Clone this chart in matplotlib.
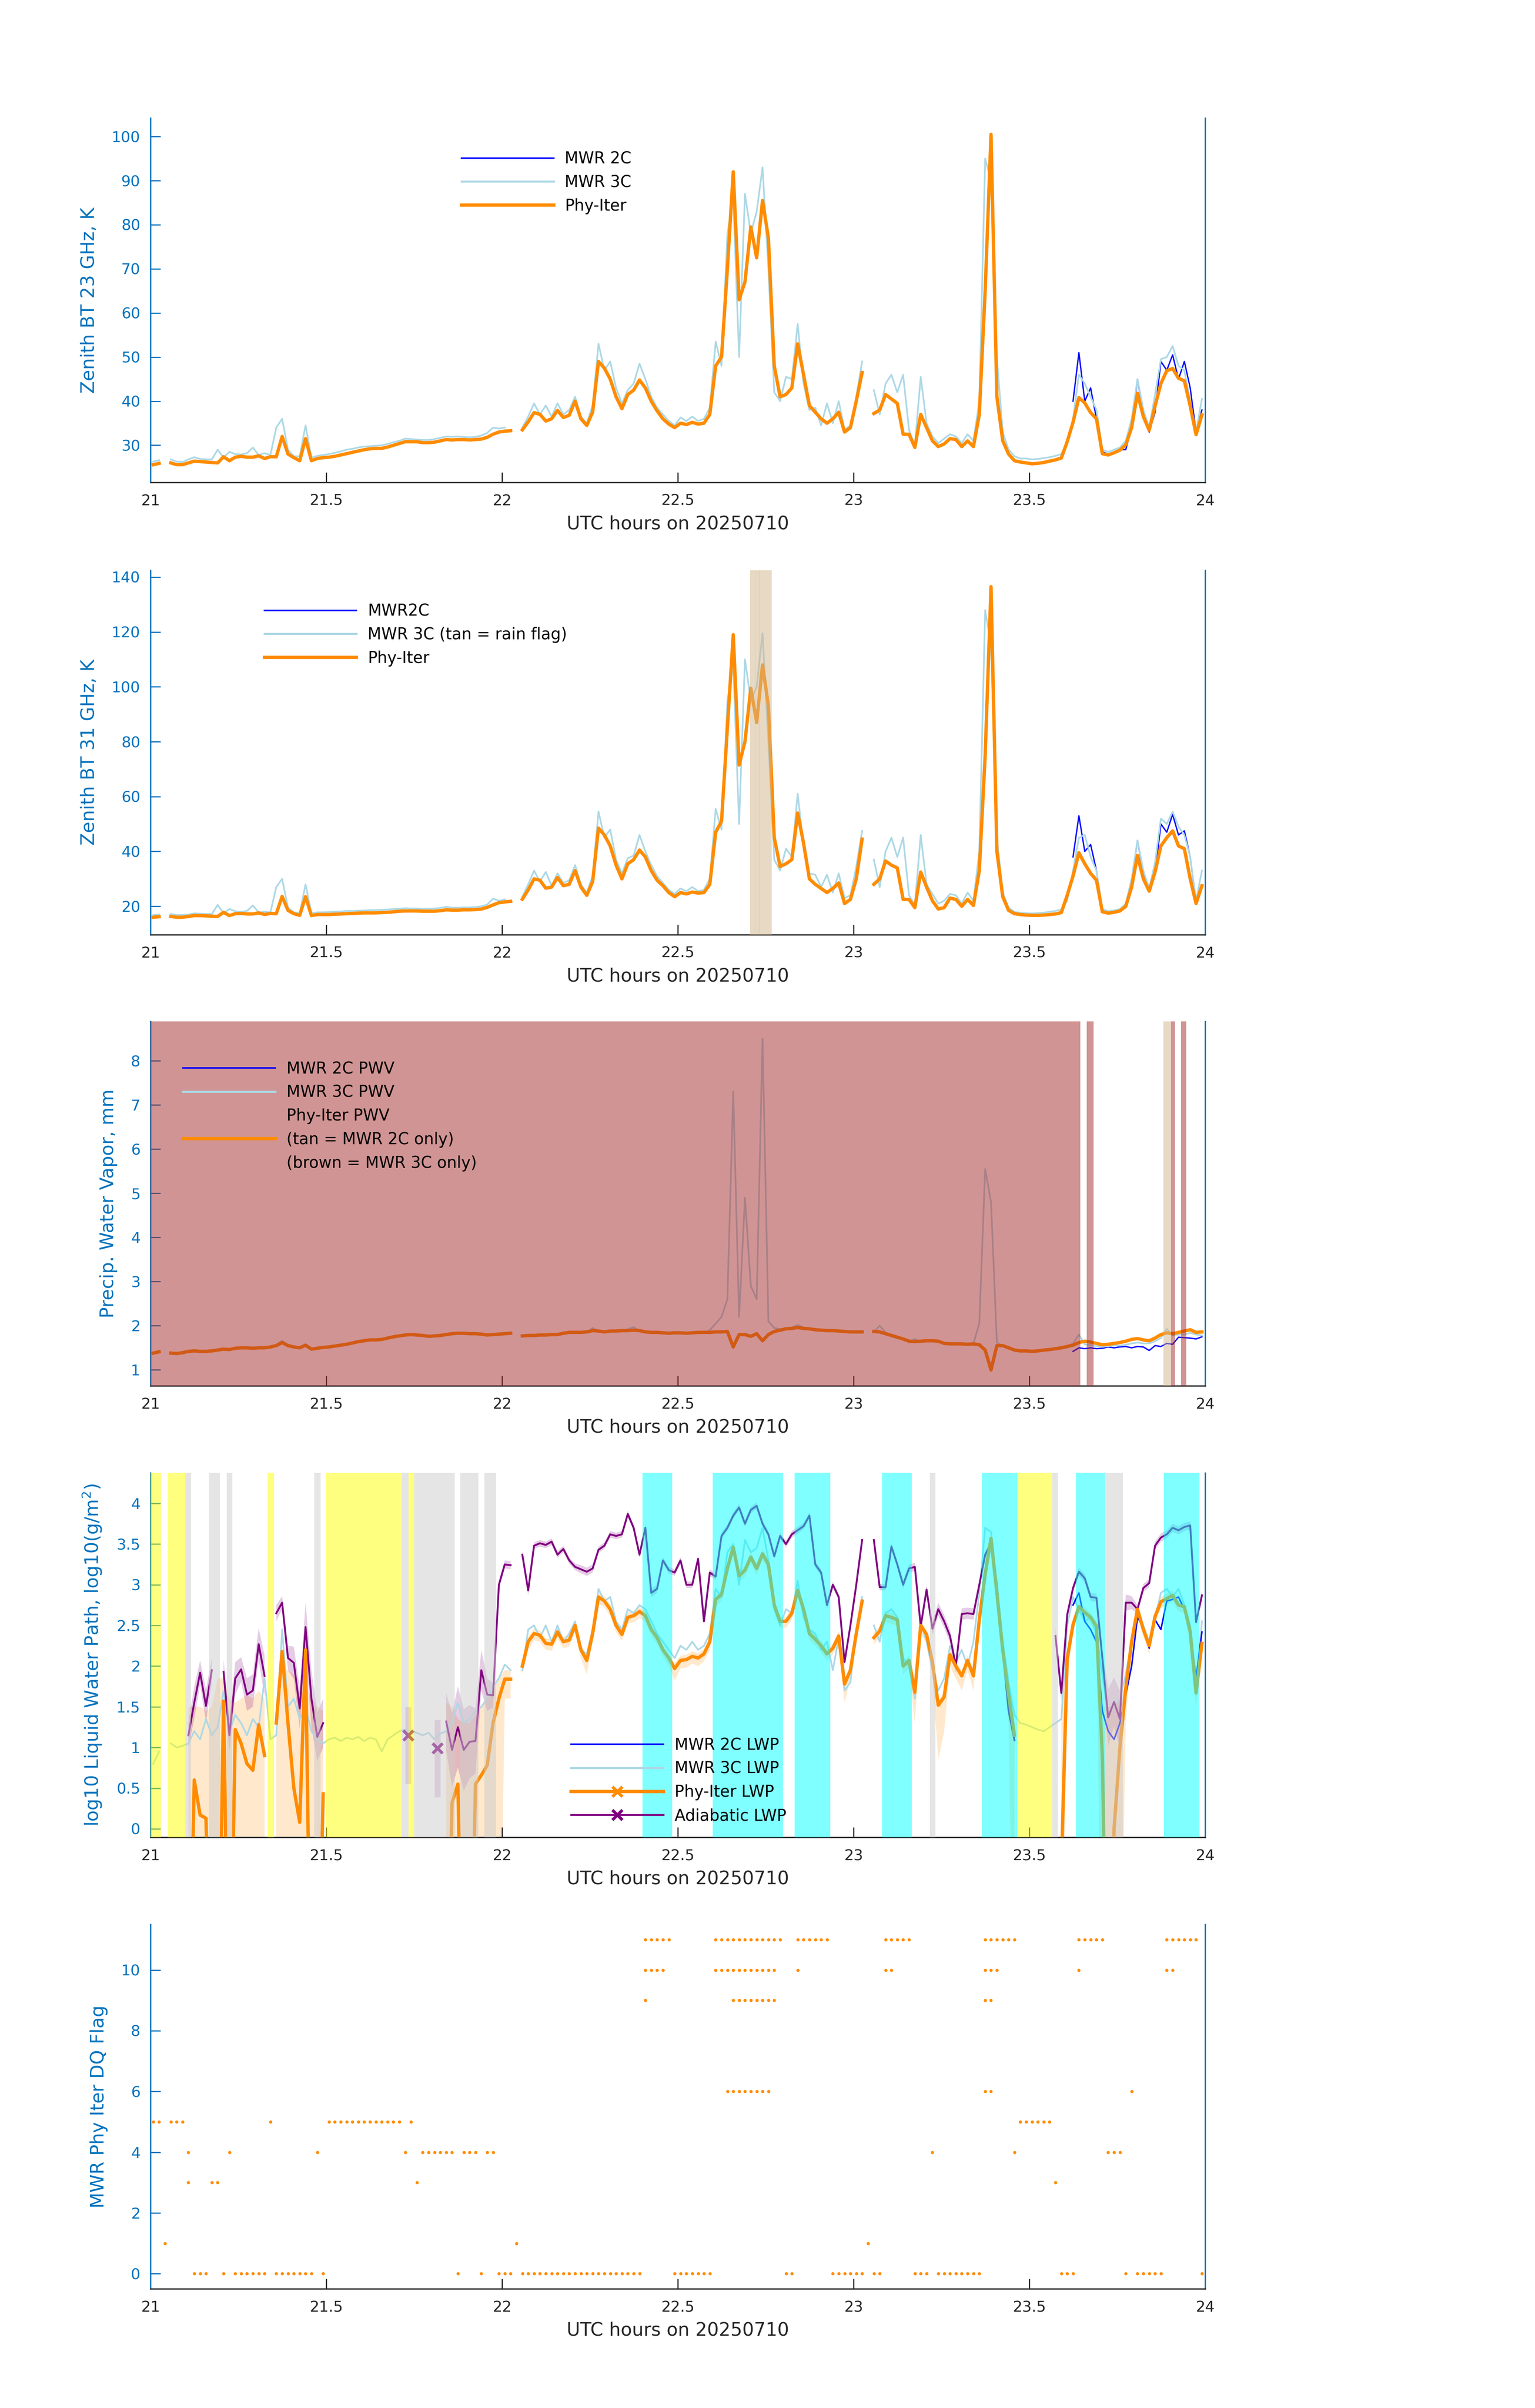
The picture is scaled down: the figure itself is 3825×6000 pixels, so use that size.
import numpy as np
import matplotlib
matplotlib.use("Agg")
import matplotlib.pyplot as plt
from matplotlib.lines import Line2D

plt.rcParams['font.family'] = ['DejaVu Sans']

nan = np.nan
inf = np.inf

# ---------------- sample times (one Phy-Iter sample per minute) ----------------
SAMPLE0 = 21.008
NSAMP = 180
hours = SAMPLE0 + np.arange(NSAMP) / 60.0
MWR2C_FIRST = 157          # MWR 2C record starts at this sample

# ---------------- Zenith BT 23 GHz (K) ----------------
bt23_phy = [25.6, 25.9, nan, 26.0, 25.6, 25.6, 26.0, 26.4, 26.3, 26.2,
            26.1, 26.0, 27.4, 26.5, 27.3, 27.5, 27.3, 27.3, 27.6, 27.0,
            27.4, 27.4, 32.0, 28.0, 27.2, 26.5, 31.5, 26.5, 27.0, 27.2,
            27.3, 27.5, 27.8, 28.1, 28.4, 28.7, 29.0, 29.2, 29.3, 29.3,
            29.6, 30.0, 30.4, 30.8, 30.8, 30.8, 30.6, 30.6, 30.7, 31.0,
            31.3, 31.2, 31.3, 31.3, 31.2, 31.3, 31.4, 31.8, 32.5, 33.0,
            33.2, 33.3, nan, 33.5, 35.3, 37.4, 37.0, 35.5, 36.0, 37.9,
            36.3, 36.8, 40.0, 36.0, 34.5, 37.5, 49.0, 47.5, 45.0, 41.0,
            38.3, 41.5, 42.5, 44.8, 43.0, 40.0, 37.8, 36.0, 34.8, 34.0,
            35.0, 34.7, 35.2, 34.8, 35.0, 37.0, 48.0, 50.0, 70.0, 92.0,
            63.0, 67.0, 79.5, 72.5, 85.5, 77.0, 48.0, 41.0, 41.5, 43.0,
            53.0, 46.0, 39.0, 37.5, 36.0, 35.0, 36.0, 37.5, 33.0, 34.0,
            40.0, 46.5, nan, 37.2, 38.0, 41.5, 40.5, 39.5, 32.5, 32.5,
            29.5, 37.0, 34.0, 31.0, 29.7, 30.3, 31.5, 31.3, 29.7, 31.0,
            29.7, 37.0, 65.0, 100.5, 41.0, 31.0, 28.0, 26.5, 26.2, 26.0,
            25.8, 25.9, 26.1, 26.4, 26.7, 27.1, 30.8, 35.2, 40.8, 39.6,
            37.4, 36.0, 28.1, 27.8, 28.3, 28.9, 30.1, 34.0, 41.8, 36.5,
            33.4, 38.9, 44.0, 46.9, 47.4, 45.2, 44.6, 38.9, 32.4, 36.9]
bt23_3c = [26.3, 26.6, nan, 26.8, 26.3, 26.2, 26.8, 27.3, 26.9, 26.8,
           26.8, 29.0, 27.2, 28.5, 28.0, 27.9, 28.2, 29.5, 27.8, 28.2,
           27.8, 34.0, 36.0, 29.0, 27.5, 27.5, 34.5, 27.2, 27.6, 27.8,
           28.0, 28.3, 28.6, 29.0, 29.2, 29.5, 29.7, 29.8, 29.9, 30.0,
           30.3, 30.7, 31.0, 31.5, 31.4, 31.3, 31.2, 31.2, 31.4, 31.7,
           32.0, 31.9, 32.0, 31.9, 31.8, 31.9, 32.2, 32.8, 34.0, 33.8,
           34.0, nan, nan, 34.0, 36.5, 39.5, 37.0, 39.0, 36.5, 39.5,
           37.0, 38.0, 41.0, 36.5, 35.0, 39.0, 53.0, 47.0, 49.0, 43.0,
           39.5, 42.5, 44.0, 48.5, 45.0, 41.0, 38.5, 37.0, 35.5, 34.5,
           36.3, 35.5, 36.5, 35.5, 36.0, 38.5, 53.5, 48.0, 78.0, 86.0,
           50.0, 87.0, 78.0, 83.0, 93.0, 70.0, 42.0, 40.0, 45.5, 45.0,
           57.5, 44.0, 38.0, 38.5, 34.5, 39.5, 35.0, 40.0, 33.5, 34.5,
           41.0, 49.0, nan, 42.5, 37.0, 44.0, 46.0, 42.0, 46.0, 33.5,
           30.0, 45.5, 35.0, 32.0, 30.5, 31.5, 32.5, 32.0, 30.5, 32.5,
           31.0, 40.0, 95.0, 90.0, 50.0, 33.0, 29.0, 27.5, 27.0, 27.0,
           26.8, 26.9, 27.1, 27.3, 27.6, 28.0, 30.5, 36.0, 46.0, 44.0,
           41.0, 38.0, 29.0, 28.5, 29.0, 29.5, 31.0, 36.0, 45.0, 38.0,
           34.0, 41.5, 49.5, 50.0, 52.5, 48.0, 47.0, 40.0, 33.0, 40.5]
bt23_2c = [40.0, 51.0, 40.0, 43.0, 36.0, 28.5, 28.0, 28.5, 29.0, 29.0,
           34.0, 45.0, 37.0, 33.0, 37.5, 49.0, 47.0, 50.5, 45.0, 49.0,
           43.0, 33.0, 38.0]

# ---------------- Zenith BT 31 GHz (K) ----------------
bt31_phy = [16.0, 16.2, nan, 16.3, 16.0, 16.0, 16.3, 16.6, 16.6, 16.5,
            16.4, 16.3, 17.8, 16.6, 17.3, 17.4, 17.2, 17.2, 17.6, 17.0,
            17.4, 17.3, 23.6, 18.5, 17.3, 16.7, 23.5, 16.6, 17.0, 17.0,
            17.0, 17.1, 17.2, 17.3, 17.4, 17.5, 17.6, 17.6, 17.6, 17.7,
            17.8, 18.0, 18.2, 18.3, 18.3, 18.3, 18.2, 18.2, 18.2, 18.4,
            18.7, 18.6, 18.6, 18.7, 18.7, 18.8, 19.0, 19.6, 20.5, 21.3,
            21.6, 21.8, nan, 22.6, 26.0, 30.0, 29.5, 26.6, 27.0, 30.5,
            27.5, 28.0, 33.0, 27.0, 24.0, 29.0, 48.5, 46.0, 42.0, 35.0,
            30.0, 35.5, 37.0, 40.5, 38.0, 33.0, 29.5, 27.5, 25.0, 23.5,
            25.0, 24.5, 25.2, 24.8, 25.0, 28.0, 47.0, 51.0, 85.0, 119.0,
            71.5, 80.0, 99.5, 87.0, 108.0, 93.0, 45.0, 34.5, 35.5, 37.0,
            54.0, 43.0, 30.0, 28.0, 26.5, 25.0, 26.5, 28.5, 21.0, 22.5,
            30.0, 44.5, nan, 28.0, 30.0, 36.5, 35.0, 34.0, 22.5, 22.5,
            19.5, 32.5, 27.0, 22.0, 19.0, 19.5, 23.0, 22.5, 20.0, 22.5,
            20.3, 33.0, 75.0, 136.5, 40.0, 23.5, 18.5, 17.3, 17.0, 16.8,
            16.7, 16.7, 16.8, 17.0, 17.2, 17.7, 24.0, 31.0, 39.5, 35.5,
            32.0, 29.5, 18.0, 17.5, 17.8, 18.3, 20.0, 27.0, 38.5, 30.0,
            25.5, 32.5, 42.0, 45.0, 47.5, 42.0, 41.0, 30.0, 21.0, 27.5]
bt31_3c = [16.8, 17.0, nan, 17.2, 16.8, 16.8, 17.0, 17.4, 17.3, 17.2,
           17.2, 20.5, 17.5, 19.0, 18.2, 18.0, 18.3, 20.3, 17.8, 18.0,
           17.8, 27.0, 30.0, 19.5, 17.8, 17.5, 28.0, 17.5, 17.8, 17.8,
           17.9, 18.0, 18.1, 18.3, 18.3, 18.4, 18.5, 18.6, 18.6, 18.7,
           18.8, 19.0, 19.1, 19.3, 19.2, 19.2, 19.1, 19.1, 19.2, 19.4,
           19.8, 19.5, 19.5, 19.6, 19.6, 19.7, 20.0, 20.6, 22.8, 22.0,
           22.5, nan, nan, 23.5, 28.0, 33.0, 29.0, 32.5, 27.5, 32.0,
           28.5, 29.5, 35.0, 28.0, 25.0, 31.0, 54.5, 45.0, 48.0, 37.0,
           32.0, 37.5, 38.5, 46.0, 40.0, 35.0, 31.0, 28.5, 26.0, 24.5,
           26.5, 25.5, 27.0, 25.5, 26.0, 30.0, 55.5, 48.0, 95.0, 108.0,
           50.0, 110.0, 95.0, 100.0, 119.5, 80.0, 37.0, 33.0, 41.0, 38.0,
           61.0, 42.0, 32.0, 31.5, 27.0, 31.5, 25.0, 32.0, 23.0, 24.0,
           34.5, 47.5, nan, 37.0, 27.0, 40.0, 45.0, 38.0, 45.0, 24.0,
           20.5, 46.0, 28.0, 24.5, 21.0, 22.0, 24.5, 24.0, 21.0, 25.0,
           22.0, 40.0, 128.0, 115.0, 45.0, 25.0, 19.5, 18.0, 17.6, 17.5,
           17.4, 17.5, 17.7, 18.0, 18.3, 18.8, 22.0, 33.0, 45.0, 46.0,
           38.0, 33.0, 19.0, 18.2, 18.5, 19.0, 21.0, 30.0, 44.0, 33.0,
           26.5, 36.0, 52.0, 50.0, 54.5, 49.0, 46.0, 38.0, 22.0, 33.0]
bt31_2c = [38.0, 53.0, 40.0, 42.5, 33.0, 18.5, 17.8, 18.0, 18.5, 19.5,
           29.0, 44.0, 32.0, 26.0, 32.0, 50.0, 47.0, 53.5, 46.0, 47.5,
           38.0, 21.0, 27.0]
rain_flag_spans = [(22.706, 22.721), (22.720, 22.732), (22.731, 22.767)]

# ---------------- Precipitable water vapour (mm) ----------------
pwv_phy = [1.38, 1.41, nan, 1.38, 1.37, 1.39, 1.42, 1.43, 1.42, 1.42,
           1.43, 1.45, 1.47, 1.46, 1.49, 1.50, 1.50, 1.49, 1.50, 1.50,
           1.52, 1.55, 1.62, 1.55, 1.52, 1.50, 1.56, 1.47, 1.49, 1.51,
           1.52, 1.54, 1.56, 1.58, 1.61, 1.64, 1.66, 1.68, 1.68, 1.69,
           1.72, 1.75, 1.77, 1.79, 1.80, 1.79, 1.78, 1.76, 1.77, 1.78,
           1.80, 1.82, 1.83, 1.83, 1.82, 1.82, 1.81, 1.79, 1.80, 1.81,
           1.82, 1.83, nan, 1.77, 1.78, 1.78, 1.79, 1.79, 1.80, 1.80,
           1.83, 1.85, 1.85, 1.85, 1.86, 1.89, 1.88, 1.86, 1.88, 1.88,
           1.89, 1.89, 1.90, 1.89, 1.86, 1.85, 1.85, 1.84, 1.83, 1.84,
           1.84, 1.83, 1.84, 1.85, 1.85, 1.85, 1.86, 1.86, 1.87, 1.52,
           1.80, 1.80, 1.76, 1.82, 1.66, 1.80, 1.87, 1.90, 1.93, 1.94,
           1.96, 1.94, 1.93, 1.91, 1.90, 1.89, 1.89, 1.88, 1.87, 1.86,
           1.86, 1.86, nan, 1.87, 1.86, 1.82, 1.78, 1.74, 1.70, 1.65,
           1.64, 1.65, 1.66, 1.66, 1.65, 1.60, 1.59, 1.59, 1.59, 1.58,
           1.59, 1.57, 1.45, 1.00, 1.55, 1.55, 1.50, 1.45, 1.43, 1.43,
           1.42, 1.43, 1.45, 1.46, 1.48, 1.50, 1.53, 1.56, 1.62, 1.65,
           1.63, 1.60, 1.57, 1.58, 1.60, 1.62, 1.65, 1.69, 1.71, 1.68,
           1.66, 1.72, 1.80, 1.84, 1.82, 1.85, 1.88, 1.91, 1.85, 1.86]
pwv_3c = [1.37, 1.40, nan, 1.37, 1.36, 1.38, 1.41, 1.42, 1.41, 1.41,
          1.42, 1.44, 1.46, 1.45, 1.48, 1.49, 1.49, 1.48, 1.49, 1.49,
          1.51, 1.57, 1.66, 1.56, 1.51, 1.49, 1.58, 1.46, 1.48, 1.50,
          1.51, 1.53, 1.55, 1.57, 1.60, 1.63, 1.65, 1.67, 1.67, 1.68,
          1.71, 1.74, 1.76, 1.78, 1.79, 1.78, 1.77, 1.75, 1.76, 1.77,
          1.79, 1.81, 1.82, 1.82, 1.81, 1.81, 1.80, 1.78, 1.79, 1.80,
          1.81, nan, nan, 1.76, 1.77, 1.77, 1.78, 1.78, 1.79, 1.82,
          1.83, 1.84, 1.87, 1.84, 1.85, 1.95, 1.88, 1.85, 1.87, 1.87,
          1.88, 1.92, 1.97, 1.88, 1.85, 1.84, 1.84, 1.83, 1.82, 1.83,
          1.83, 1.82, 1.83, 1.84, 1.84, 1.90, 2.05, 2.20, 2.60, 7.30,
          2.20, 4.90, 2.90, 2.60, 8.50, 2.10, 1.95, 1.92, 1.95, 1.96,
          2.02, 1.96, 1.92, 1.90, 1.89, 1.88, 1.88, 1.87, 1.86, 1.85,
          1.85, 1.85, nan, 1.86, 2.00, 1.85, 1.76, 1.72, 1.70, 1.64,
          1.70, 1.64, 1.65, 1.65, 1.64, 1.59, 1.58, 1.58, 1.58, 1.57,
          1.60, 2.05, 5.55, 4.80, 1.62, 1.54, 1.49, 1.44, 1.42, 1.42,
          1.41, 1.42, 1.44, 1.45, 1.47, 1.49, 1.52, 1.60, 1.80, 1.58,
          1.56, 1.54, 1.52, 1.54, 1.55, 1.55, 1.57, 1.60, 1.62, 1.60,
          1.60, 1.65, 1.72, 1.93, 1.78, 1.80, 1.80, 1.84, 1.80, 1.78]
pwv_2c = [1.42, 1.50, 1.48, 1.50, 1.48, 1.49, 1.52, 1.50, 1.52, 1.53,
          1.50, 1.53, 1.52, 1.44, 1.55, 1.53, 1.60, 1.58, 1.74, 1.73,
          1.72, 1.70, 1.75]
mwr3c_only_spans = [(21.0, 23.645), (23.664, 23.683), (23.903, 23.915), (23.932, 23.947)]
mwr2c_only_spans = [(23.882, 23.903)]

# ---------------- log10 LWP (log10 g/m2); -inf = zero LWP ----------------
lwp_phy = [nan, nan, nan, nan, nan, nan, -inf, 0.60, 0.17, 0.13,
           -inf, -inf, 1.57, -inf, 1.22, 1.05, 0.80, 0.72, 1.28, 0.90,
           nan, 1.30, 2.18, 1.30, 0.50, 0.08, 2.20, -inf, -inf, 0.43,
           nan, nan, nan, nan, nan, nan, nan, nan, nan, nan,
           nan, nan, nan, nan, nan, nan, nan, nan, nan, nan,
           -inf, 0.32, 0.55, -inf, -inf, 0.55, 0.66, 0.78, 1.30, 1.60,
           1.84, 1.84, nan, 2.00, 2.30, 2.40, 2.38, 2.28, 2.27, 2.42,
           2.30, 2.32, 2.50, 2.20, 2.07, 2.40, 2.85, 2.80, 2.70, 2.50,
           2.39, 2.60, 2.62, 2.67, 2.62, 2.45, 2.35, 2.20, 2.10, 1.97,
           2.07, 2.08, 2.12, 2.10, 2.15, 2.30, 2.82, 2.88, 3.20, 3.46,
           3.11, 3.18, 3.34, 3.20, 3.38, 3.25, 2.75, 2.55, 2.55, 2.65,
           2.93, 2.70, 2.40, 2.33, 2.25, 2.15, 2.22, 2.37, 1.78, 1.95,
           2.40, 2.80, nan, 2.35, 2.43, 2.62, 2.60, 2.57, 2.00, 2.07,
           1.68, 2.50, 2.39, 2.05, 1.52, 1.62, 2.14, 2.00, 1.88, 2.07,
           1.88, 2.57, 3.13, 3.57, 2.90, 2.20, 1.65, 1.15, nan, nan,
           nan, nan, nan, nan, nan, -0.50, 2.09, 2.51, 2.73, 2.66,
           2.60, 2.49, 0.89, -inf, 0.00, 1.00, 1.73, 2.30, 2.70, 2.45,
           2.25, 2.61, 2.79, 2.83, 2.87, 2.75, 2.73, 2.42, 1.67, 2.28]
lwp_phy_hi = [nan, nan, nan, nan, nan, nan, 1.50, 1.50, 1.50, 1.45,
              1.50, 1.85, 1.85, 1.60, 1.55, 1.60, 1.65, 1.60, 1.70, 1.60,
              nan, 1.50, 1.95, 1.95, 1.90, 1.60, 1.80, 1.60, 1.50, 1.45,
              nan, nan, nan, nan, nan, nan, nan, nan, nan, nan,
              nan, nan, nan, nan, nan, nan, nan, nan, nan, nan,
              1.55, 1.50, 1.35, 1.30, 1.30, 1.40, 1.50, 1.60, 1.70, 1.85,
              1.95, 1.95, nan, 2.06, 2.36, 2.46, 2.44, 2.34, 2.33, 2.48,
              2.36, 2.38, 2.56, 2.26, 2.13, 2.46, 2.91, 2.86, 2.76, 2.56,
              2.45, 2.66, 2.68, 2.73, 2.68, 2.51, 2.41, 2.26, 2.16, 2.03,
              2.13, 2.14, 2.18, 2.16, 2.21, 2.36, 2.88, 2.94, 3.26, 3.52,
              3.17, 3.24, 3.40, 3.26, 3.44, 3.31, 2.81, 2.61, 2.61, 2.71,
              2.99, 2.76, 2.46, 2.39, 2.31, 2.21, 2.28, 2.43, 1.84, 2.01,
              2.46, 2.86, nan, 2.41, 2.49, 2.68, 2.66, 2.63, 2.06, 2.13,
              1.74, 2.56, 2.45, 2.11, 1.58, 1.68, 2.20, 2.06, 1.94, 2.13,
              1.94, 2.63, 3.19, 3.63, 2.96, 2.26, 1.71, 1.25, nan, nan,
              nan, nan, nan, nan, nan, 1.50, 2.15, 2.57, 2.79, 2.72,
              2.66, 2.55, 1.50, 1.50, 1.50, 1.60, 1.79, 2.36, 2.76, 2.51,
              2.31, 2.67, 2.85, 2.89, 2.93, 2.81, 2.79, 2.48, 1.73, 2.34]
lwp_phy_lo = [nan, nan, nan, nan, nan, nan, -inf, -inf, -inf, -inf,
              -inf, -inf, -inf, -inf, -inf, -inf, -inf, -inf, -inf, -inf,
              nan, -inf, -inf, -inf, -inf, -inf, -inf, -inf, -inf, -inf,
              nan, nan, nan, nan, nan, nan, nan, nan, nan, nan,
              nan, nan, nan, nan, nan, nan, nan, nan, nan, nan,
              -inf, -inf, -inf, -inf, -inf, -inf, -inf, -inf, -inf, -inf,
              1.60, 1.60, nan, 1.90, 2.20, 2.32, 2.30, 2.20, 2.19, 2.34,
              2.22, 2.24, 2.42, 2.10, 1.90, 2.30, 2.77, 2.72, 2.62, 2.42,
              2.31, 2.52, 2.54, 2.59, 2.54, 2.37, 2.27, 2.12, 2.00, 1.82,
              1.97, 1.98, 2.03, 2.00, 2.06, 2.20, 2.74, 2.80, 3.12, 3.38,
              3.03, 3.10, 3.26, 3.12, 3.30, 3.17, 2.67, 2.47, 2.47, 2.57,
              2.85, 2.62, 2.32, 2.25, 2.17, 2.07, 2.14, 2.29, 1.55, 1.85,
              2.30, 2.72, nan, 2.27, 2.35, 2.54, 2.52, 2.49, 1.90, 1.97,
              1.30, 2.40, 2.29, 1.90, 0.85, 1.20, 2.00, 1.85, 1.70, 1.95,
              1.70, 2.45, 3.05, 3.49, 2.80, 2.05, 1.30, -inf, nan, nan,
              nan, nan, nan, nan, nan, -inf, 1.85, 2.43, 2.65, 2.58,
              2.52, 2.40, -inf, -inf, -inf, -inf, 1.35, 2.20, 2.62, 2.37,
              2.15, 2.53, 2.71, 2.75, 2.79, 2.67, 2.65, 2.30, 1.50, 2.20]
lwp_3c = [0.80, 0.95, nan, 1.05, 1.00, 1.02, 1.05, 1.20, 1.10, 1.35,
          1.15, 1.25, 1.70, 1.20, 1.40, 1.30, 1.15, 1.35, 1.25, 1.85,
          1.10, 1.15, 2.45, 1.50, 1.60, 1.35, 1.50, 1.20, 1.10, 1.05,
          1.10, 1.12, 1.08, 1.12, 1.10, 1.13, 1.08, 1.12, 1.10, 0.95,
          1.10, 1.15, 1.20, 1.22, 1.20, 1.18, 1.15, 1.18, 1.10, 1.17,
          1.20, 1.30, 1.55, 1.30, 1.35, 1.45, 1.50, 1.60, 1.75, 1.85,
          2.02, 1.95, nan, 1.95, 2.45, 2.50, 2.35, 2.50, 2.30, 2.50,
          2.30, 2.40, 2.55, 2.20, 2.15, 2.45, 2.95, 2.80, 2.85, 2.55,
          2.45, 2.70, 2.65, 2.75, 2.70, 2.55, 2.40, 2.30, 2.20, 2.10,
          2.25, 2.20, 2.30, 2.20, 2.25, 2.40, 2.95, 2.85, 3.40, 3.50,
          3.00, 3.55, 3.40, 3.45, 3.70, 3.30, 2.70, 2.50, 2.70, 2.65,
          3.05, 2.60, 2.45, 2.40, 2.20, 2.30, 1.95, 2.35, 1.70, 1.80,
          2.45, 2.85, nan, 2.50, 2.30, 2.65, 2.70, 2.60, 2.10, 2.00,
          1.60, 2.55, 2.30, 1.95, 1.70, 1.85, 2.25, 2.05, 2.20, 2.00,
          2.30, 2.90, 3.70, 3.65, 3.00, 2.30, 1.80, 1.40, 1.30, 1.28,
          1.25, 1.22, 1.20, 1.25, 1.30, 1.35, 2.50, 2.85, 2.70, 2.55,
          2.60, 2.40, 1.90, 1.40, 1.50, 1.60, 1.90, 2.30, 2.65, 2.50,
          2.30, 2.60, 2.90, 2.95, 2.85, 2.95, 2.75, 2.50, 1.75, 2.55]
lwp_2c = [2.75, 2.90, 2.55, 2.45, 2.30, 1.45, 1.20, 1.10, 1.30, 1.65,
          2.00, 2.60, 2.48, 2.22, 2.57, 2.45, 2.80, 2.82, 2.85, 2.70,
          2.42, 1.85, 2.42]
lwp_adiab = [nan, nan, nan, nan, nan, nan, 1.15, 1.55, 1.92, 1.51,
             1.95, nan, 1.93, 1.15, 1.85, 1.96, 1.65, 1.70, 2.27, 1.88,
             nan, 2.65, 2.78, 2.10, 2.04, 1.48, 2.48, 1.60, 1.13, 1.30,
             nan, nan, nan, nan, nan, nan, nan, nan, nan, nan,
             nan, nan, nan, nan, nan, nan, nan, nan, nan, nan,
             1.32, 0.97, 1.25, 0.97, 1.07, 1.08, 1.95, 1.65, 1.64, 3.00,
             3.25, 3.24, nan, 3.37, 2.93, 3.48, 3.51, 3.49, 3.53, 3.37,
             3.44, 3.30, 3.22, 3.19, 3.16, 3.20, 3.43, 3.48, 3.62, 3.60,
             3.62, 3.87, 3.70, 3.37, 3.70, 2.90, 2.95, 3.30, 3.18, 3.15,
             3.30, 3.00, 3.00, 3.32, 2.55, 3.15, 3.10, 3.60, 3.70, 3.85,
             3.95, 3.75, 3.92, 3.97, 3.75, 3.62, 3.35, 3.60, 3.50, 3.62,
             3.67, 3.72, 3.85, 3.25, 3.15, 2.75, 3.00, 2.85, 2.05, 2.50,
             3.00, 3.55, nan, 3.55, 2.97, 2.97, 3.47, 3.25, 3.00, 3.20,
             3.22, 2.49, 2.94, 2.46, 2.70, 2.55, 2.37, 2.00, 2.64, 2.65,
             2.64, 3.00, 3.37, 3.50, 3.00, 2.20, 1.45, 1.09, nan, nan,
             nan, nan, nan, nan, 2.37, 1.67, 2.63, 2.96, 3.16, 3.08,
             2.85, 2.84, 2.10, 1.37, 1.56, 1.35, 2.78, 2.78, 2.70, 2.96,
             3.02, 3.48, 3.58, 3.62, 3.70, 3.67, 3.71, 3.73, 2.54, 2.87]
lwp_adiab_err = [0, 0, 0, 0, 0, 0, 0.15, 0.20, 0.15, 0.20,
                 0.15, 0, 0.15, 0.20, 0.20, 0.15, 0.20, 0.20, 0.20, 0.25,
                 0, 0.10, 0.08, 0.15, 0.20, 0.25, 0.30, 0.35, 0.30, 0.30,
                 0, 0, 0, 0, 0, 0, 0, 0, 0, 0,
                 0, 0, 0, 0, 0, 0, 0, 0, 0, 0,
                 0.35, 0.45, 0.50, 0.50, 0.45, 0.40, 0.25, 0.20, 0.15, 0.05,
                 0.05, 0.05, 0, 0.05, 0.06, 0.04, 0.04, 0.04, 0.04, 0.04,
                 0.04, 0.04, 0.04, 0.05, 0.05, 0.05, 0.04, 0.04, 0.04, 0.04,
                 0.04, 0.04, 0.04, 0.04, 0.04, 0.05, 0.05, 0.04, 0.04, 0.04,
                 0.04, 0.04, 0.04, 0.04, 0.05, 0.04, 0.04, 0.04, 0.04, 0.04,
                 0.04, 0.04, 0.04, 0.04, 0.04, 0.04, 0.04, 0.04, 0.04, 0.04,
                 0.04, 0.04, 0.04, 0.04, 0.04, 0.05, 0.04, 0.04, 0.05, 0.04,
                 0.04, 0.04, 0, 0.04, 0.04, 0.04, 0.04, 0.04, 0.05, 0.05,
                 0.05, 0.06, 0.06, 0.08, 0.08, 0.08, 0.08, 0.08, 0.07, 0.07,
                 0.07, 0.05, 0.05, 0.05, 0.05, 0.05, 0.05, 0.05, 0, 0,
                 0, 0, 0, 0, 0.10, 0.10, 0.05, 0.05, 0.05, 0.05,
                 0.05, 0.05, 0.10, 0.35, 0.30, 0.35, 0.10, 0.08, 0.05, 0.05,
                 0.05, 0.05, 0.05, 0.05, 0.05, 0.05, 0.05, 0.05, 0.05, 0.05]
adiab_single_t = [21.733, 21.816]
adiab_single_v = [1.15, 0.99]
adiab_single_lo = [0.55, 0.39]
adiab_single_hi = [1.50, 1.34]

yellow_spans = [(21.000, 21.030), (21.049, 21.100), (21.334, 21.352), (21.499, 21.715),
                (21.734, 21.750), (23.466, 23.565)]
gray_spans = [(21.100, 21.116), (21.167, 21.198), (21.217, 21.233), (21.466, 21.484),
              (21.715, 21.734), (21.750, 21.866), (21.882, 21.933), (21.950, 21.983),
              (23.217, 23.233), (23.565, 23.582), (23.715, 23.766)]
cyan_spans = [(22.400, 22.484), (22.600, 22.799), (22.832, 22.934), (23.081, 23.166),
              (23.366, 23.466), (23.633, 23.715), (23.883, 23.984)]

# ---------------- Phy-Iter DQ flags (sample indices per flag value) ----------------
flag0_idx = [7, 8, 9, 12, 14, 15, 16, 17, 18, 19, 21, 22, 23, 24, 25, 26, 27, 29,
             52, 56, 59, 60, 61, 63, 64, 65, 66, 67, 68, 69, 70, 71, 72, 73, 74,
             75, 76, 77, 78, 79, 80, 81, 82, 83, 89, 90, 91, 92, 93, 94, 95,
             108, 109, 116, 117, 118, 119, 120, 121, 123, 124, 130, 131, 132,
             134, 135, 136, 137, 138, 139, 140, 141, 155, 156, 157, 166,
             168, 169, 170, 171, 172, 179]
flag1_idx = [2, 62, 122]
flag3_idx = [6, 10, 11, 45, 154]
flag4_idx = [6, 13, 28, 43, 46, 47, 48, 49, 50, 51, 53, 54, 55, 57, 58,
             133, 147, 163, 164, 165]
flag5_idx = [0, 1, 3, 4, 5, 20, 30, 31, 32, 33, 34, 35, 36, 37, 38, 39, 40, 41, 42,
             44, 148, 149, 150, 151, 152, 153]
flag6_idx = [98, 99, 100, 101, 102, 103, 104, 105, 142, 143, 167]
flag9_idx = [84, 99, 100, 101, 102, 103, 104, 105, 106, 142, 143]
flag10_idx = [84, 85, 86, 87, 96, 97, 98, 99, 100, 101, 102, 103, 104, 105, 106,
              110, 125, 126, 142, 143, 144, 158, 173, 174]
flag11_idx = [84, 85, 86, 87, 88, 96, 97, 98, 99, 100, 101, 102, 103, 104, 105, 106, 107,
              110, 111, 112, 113, 114, 115, 125, 126, 127, 128, 129,
              142, 143, 144, 145, 146, 147, 158, 159, 160, 161, 162,
              173, 174, 175, 176, 177, 178]
flag_values = [0, 1, 3, 4, 5, 6, 9, 10, 11]
flag_lists = [flag0_idx, flag1_idx, flag3_idx, flag4_idx, flag5_idx, flag6_idx,
              flag9_idx, flag10_idx, flag11_idx]

# ---------------- styling ----------------
C_2C = '#0000FF'
C_3C = '#ADD8E6'
C_PHY = '#FF8C00'
C_AD = '#800080'
AXBLUE = '#0072BD'
DARK = '#262626'
BELOW = -3.0   # drawing level for log10(0)

hours2c = hours[MWR2C_FIRST:]


def floor_neg_inf(a):
    a = np.asarray(a, dtype=float)
    return np.where(np.isneginf(a), BELOW, a)


def style_axes(ax, ylim, yticks, ylabel):
    ax.set_xlim(21, 24)
    ax.set_ylim(*ylim)
    xt = [21, 21.5, 22, 22.5, 23, 23.5, 24]
    ax.set_xticks(xt)
    ax.set_xticklabels(['%g' % v for v in xt])
    ax.set_yticks(yticks)
    ax.set_yticklabels(['%g' % v for v in yticks])
    ax.spines['top'].set_visible(False)
    for s in ('left', 'right'):
        ax.spines[s].set_color(AXBLUE)
        ax.spines[s].set_linewidth(0.8)
    ax.spines['bottom'].set_color(DARK)
    ax.spines['bottom'].set_linewidth(0.8)
    ax.tick_params(axis='x', direction='in', length=6, width=0.7, colors=DARK,
                   labelsize=9, pad=7, top=False)
    ax.tick_params(axis='y', direction='in', length=6, width=0.7, colors=AXBLUE,
                   labelsize=9, pad=6, right=False)
    ax.set_xlabel('UTC hours on 20250710', fontsize=11, color=DARK, labelpad=4)
    ax.set_ylabel(ylabel, fontsize=11, color=AXBLUE, labelpad=8)


def add_legend(ax, handles, labels, anchor):
    leg = ax.legend(handles, labels, loc='upper left', bbox_to_anchor=anchor,
                    frameon=False, fontsize=9.5, handlelength=5.8, handletextpad=0.7,
                    labelspacing=0.47, borderpad=0, borderaxespad=0, numpoints=1)
    leg.set_zorder(10)
    return leg


fig = plt.figure(figsize=(12.75, 20), dpi=300)
AX_LEFT, AX_W, AX_H = 0.098, 0.687, 0.1513
bottoms = [0.7997, 0.6119, 0.4245, 0.2370, 0.0495]
axs = [fig.add_axes([AX_LEFT, b, AX_W, AX_H]) for b in bottoms]

# ---- panel 1: BT 23 GHz ----
ax = axs[0]
ax.plot(hours2c, bt23_2c, color=C_2C, lw=0.8, zorder=2)
ax.plot(hours, bt23_3c, color=C_3C, lw=1.0, zorder=3)
ax.plot(hours, bt23_phy, color=C_PHY, lw=2.0, zorder=4)
style_axes(ax, (21.6, 104.2), [30, 40, 50, 60, 70, 80, 90, 100], 'Zenith BT 23 GHz, K')
add_legend(ax, [Line2D([], [], color=C_2C, lw=0.9), Line2D([], [], color=C_3C, lw=1.2),
                Line2D([], [], color=C_PHY, lw=2.0)],
           ['MWR 2C', 'MWR 3C', 'Phy-Iter'], (0.295, 0.909))

# ---- panel 2: BT 31 GHz ----
ax = axs[1]
ax.plot(hours2c, bt31_2c, color=C_2C, lw=0.8, zorder=2)
ax.plot(hours, bt31_3c, color=C_3C, lw=1.0, zorder=3)
ax.plot(hours, bt31_phy, color=C_PHY, lw=2.0, zorder=4)
for a, b in rain_flag_spans:
    ax.axvspan(a, b, color='tan', alpha=0.5, lw=0, zorder=5)
style_axes(ax, (9.7, 142.5), [20, 40, 60, 80, 100, 120, 140], 'Zenith BT 31 GHz, K')
add_legend(ax, [Line2D([], [], color=C_2C, lw=0.9), Line2D([], [], color=C_3C, lw=1.2),
                Line2D([], [], color=C_PHY, lw=2.0)],
           ['MWR2C', 'MWR 3C (tan = rain flag)', 'Phy-Iter'], (0.108, 0.909))

# ---- panel 3: PWV ----
ax = axs[2]
ax.plot(hours2c, pwv_2c, color=C_2C, lw=0.8, zorder=2)
ax.plot(hours, pwv_3c, color=C_3C, lw=1.0, zorder=3)
ax.plot(hours, pwv_phy, color=C_PHY, lw=2.0, zorder=4)
for a, b in mwr3c_only_spans:
    ax.axvspan(a, b, color='brown', alpha=0.5, lw=0, zorder=5)
for a, b in mwr2c_only_spans:
    ax.axvspan(a, b, color='tan', alpha=0.5, lw=0, zorder=5)
style_axes(ax, (0.64, 8.89), [1, 2, 3, 4, 5, 6, 7, 8], 'Precip. Water Vapor, mm')
blank = Line2D([], [], color='none')
add_legend(ax, [Line2D([], [], color=C_2C, lw=0.9), Line2D([], [], color=C_3C, lw=1.2),
                blank, Line2D([], [], color=C_PHY, lw=2.0), blank],
           ['MWR 2C PWV', 'MWR 3C PWV', 'Phy-Iter PWV', '(tan = MWR 2C only)',
            '(brown = MWR 3C only)'], (0.031, 0.891))

# ---- panel 4: LWP ----
ax = axs[3]
ad = np.asarray(lwp_adiab, float)
ad_err = np.asarray(lwp_adiab_err, float)
ax.fill_between(hours, floor_neg_inf(lwp_phy_lo), floor_neg_inf(lwp_phy_hi),
                color=C_PHY, alpha=0.2, lw=0, zorder=1)
ax.fill_between(hours, ad - ad_err, ad + ad_err, color=C_AD, alpha=0.2, lw=0, zorder=1.1)
ax.vlines(adiab_single_t, adiab_single_lo, adiab_single_hi, color=C_AD, alpha=0.2,
          lw=3.5, zorder=1.1)
ax.plot(hours, lwp_3c, color=C_3C, lw=1.0, zorder=2)
ax.plot(hours2c, lwp_2c, color=C_2C, lw=0.9, zorder=2.1)
ax.plot(hours, ad, color=C_AD, lw=1.1, zorder=2.5)
ax.plot(adiab_single_t, adiab_single_v, ls='none', marker='x', ms=6, mew=1.8,
        color=C_AD, zorder=2.6)
ax.plot(hours, floor_neg_inf(lwp_phy), color=C_PHY, lw=2.0, zorder=3)
for a, b in yellow_spans:
    ax.axvspan(a, b, color='yellow', alpha=0.5, lw=0, zorder=5)
for a, b in gray_spans:
    ax.axvspan(a, b, color='#CCCCCC', alpha=0.5, lw=0, zorder=5)
for a, b in cyan_spans:
    ax.axvspan(a, b, color='cyan', alpha=0.5, lw=0, zorder=5)
style_axes(ax, (-0.104, 4.374), [0, 0.5, 1, 1.5, 2, 2.5, 3, 3.5, 4],
           r'log10 Liquid Water Path, log10(g/m$^2$)')
add_legend(ax, [Line2D([], [], color=C_2C, lw=0.9), Line2D([], [], color=C_3C, lw=1.2),
                Line2D([], [], color=C_PHY, lw=2.0, marker='x', ms=6, mew=1.8),
                Line2D([], [], color=C_AD, lw=1.1, marker='x', ms=6, mew=1.8)],
           ['MWR 2C LWP', 'MWR 3C LWP', 'Phy-Iter LWP', 'Adiabatic LWP'], (0.399, 0.274))

# ---- panel 5: DQ flag ----
ax = axs[4]
for val, idx in zip(flag_values, flag_lists):
    idx = np.asarray(idx)
    ax.plot(hours[idx], np.full(idx.size, val), ls='none', marker='o', ms=1.9,
            mec='none', color=C_PHY, zorder=3)
style_axes(ax, (-0.5, 11.5), [0, 2, 4, 6, 8, 10], 'MWR Phy Iter DQ Flag')

fig.savefig('out.png', dpi=300)
